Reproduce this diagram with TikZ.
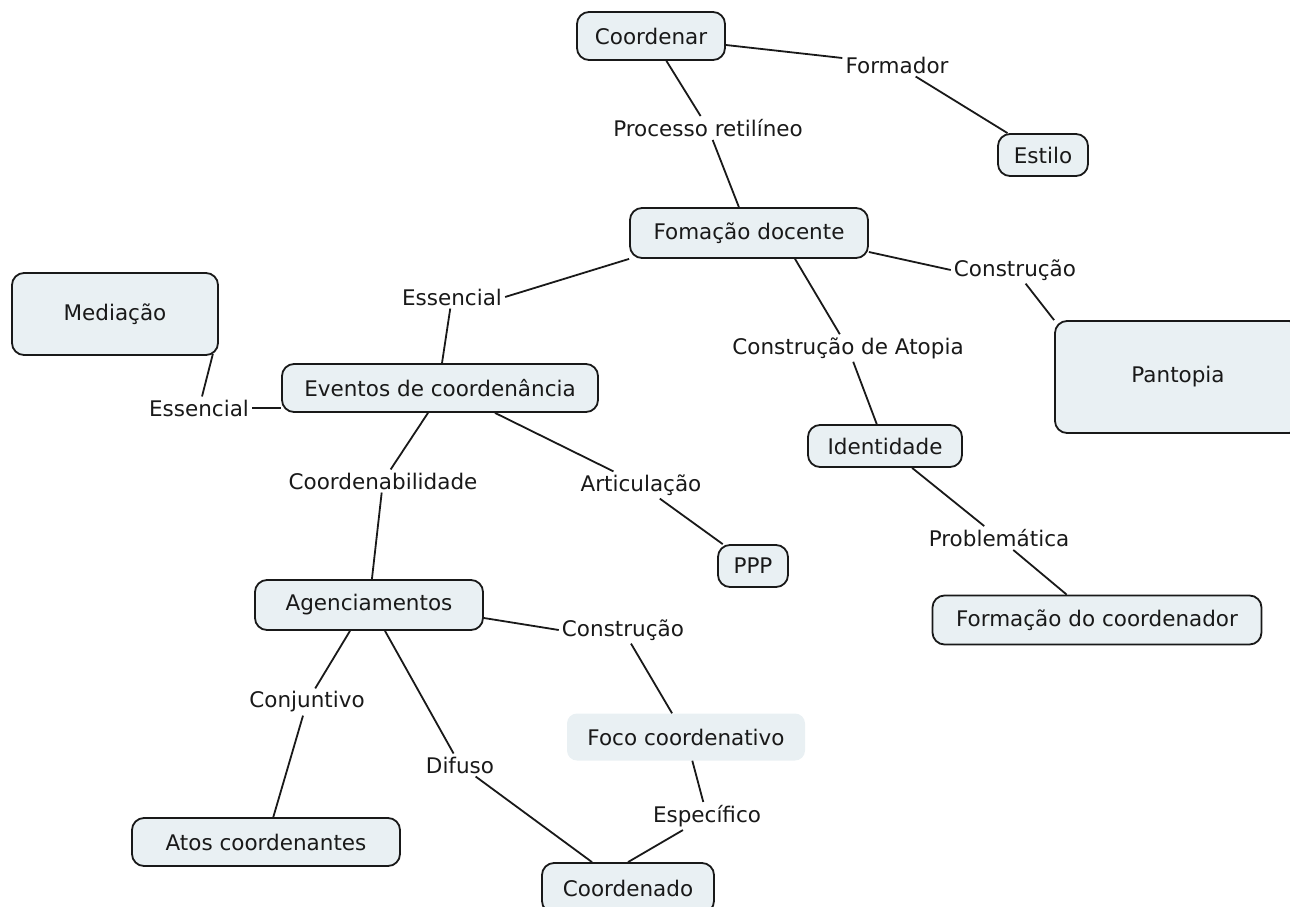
\documentclass[tikz,border=0pt]{standalone}
\usepackage{fontspec}
\setmainfont{DejaVu Sans}
\definecolor{boxfill}{RGB}{233,240,243}
\definecolor{ink}{RGB}{25,25,25}
\begin{document}
\begin{tikzpicture}[x=1pt,y=-1pt,
  font=\fontsize{21.5}{25}\selectfont,
  concept/.style={draw=ink, line width=1.8pt, fill=boxfill, rounded corners=12pt,
    inner sep=0pt, text=ink},
  softbox/.style={fill=boxfill, rounded corners=10pt, inner sep=0pt, text=ink},
  link/.style={inner sep=3pt, text=ink},
  wire/.style={draw=ink, line width=1.8pt}]
\useasboundingbox (0,0) rectangle (1290,907);

% concepts
\node[concept, minimum width=148, minimum height=48] (coord) at (651,36) {Coordenar};
\node[concept, minimum width=90, minimum height=42] (estilo) at (1043,155) {Estilo};
\node[concept, minimum width=238, minimum height=50] (foma) at (749,233) {Fomação docente};
\node[concept, minimum width=206, minimum height=82] (medi) at (115,314) {Mediação};
\node[concept, minimum width=246, minimum height=112] (pant) at (1178,377) {Pantopia};
\node[concept, minimum width=316, minimum height=48] (even) at (440,388) {Eventos de coordenância};
\node[concept, minimum width=154, minimum height=42] (iden) at (885,446) {Identidade};
\node[concept, minimum width=70, minimum height=42] (ppp) at (753,566) {PPP};
\node[concept, minimum width=329, minimum height=49] (form) at (1097,620) {Formação do coordenador};
\node[concept, minimum width=228, minimum height=50] (agen) at (369,605) {Agenciamentos};
\node[softbox, minimum width=238, minimum height=47] (foco) at (686,737) {Foco coordenativo};
\node[concept, minimum width=268, minimum height=48] (atos) at (266,842) {Atos coordenantes};
\node[concept, minimum width=172, minimum height=50] (cdo) at (628,888) {Coordenado};

% linking phrases
\node[link] (lform) at (897,65) {Formador};
\node[link] (lproc) at (708,128) {Processo retilíneo};
\node[link] (lcons1) at (1015,270) {Construção};
\node[link] (less1) at (452,297) {Essencial};
\node[link] (less2) at (199,408) {Essencial};
\node[link] (latop) at (848,348) {Construção de Atopia};
\node[link] (lcoor) at (383,481) {Coordenabilidade};
\node[link] (lart) at (641,485) {Articulação};
\node[link] (lprob) at (999,538) {Problemática};
\node[link] (lcons2) at (623,630) {Construção};
\node[link] (lconj) at (307,702) {Conjuntivo};
\node[link] (ldif) at (460,765) {Difuso};
\node[link] (lesp) at (707,816) {Específico};

% connectors
\draw[wire] (coord.east |- 0,45) -- (lform.west |- 0,58);
\draw[wire] (lform) -- (estilo);
\draw[wire] (coord) -- (lproc);
\draw[wire] (lproc) -- (foma);
\draw[wire] (foma.south west) -- (less1.east);
\draw[wire] (less1) -- (even.north -| 442,0);
\draw[wire] ([shift={(-6,-2)}]medi.south east) -- ([xshift=3pt]less2.north);
\draw[wire] (less2.east) -- (even.west |- less2.east);
\draw[wire] (foma.east |- 0,252) -- (lcons1.west);
\draw[wire] (lcons1) -- (pant.north west);
\draw[wire] ([xshift=46pt]foma.south) -- (latop);
\draw[wire] (latop) -- (iden);
\draw[wire] ([xshift=-12pt]even.south) -- (lcoor);
\draw[wire] (lcoor) -- (agen);
\draw[wire] ([xshift=55pt]even.south) -- (lart);
\draw[wire] (lart) -- (ppp);
\draw[wire] (iden) -- (lprob);
\draw[wire] (lprob) -- (form);
\draw[wire] ([yshift=-13pt]agen.east) -- (lcons2.west);
\draw[wire] (lcons2) -- (foco);
\draw[wire] ([xshift=-19pt]agen.south) -- (lconj);
\draw[wire] (lconj) -- (atos);
\draw[wire] ([xshift=16pt]agen.south) -- (ldif);
\draw[wire] (ldif) -- ([xshift=-36pt]cdo.north);
\draw[wire] (foco) -- (lesp);
\draw[wire] (lesp) -- (cdo.north);
\end{tikzpicture}
\end{document}
